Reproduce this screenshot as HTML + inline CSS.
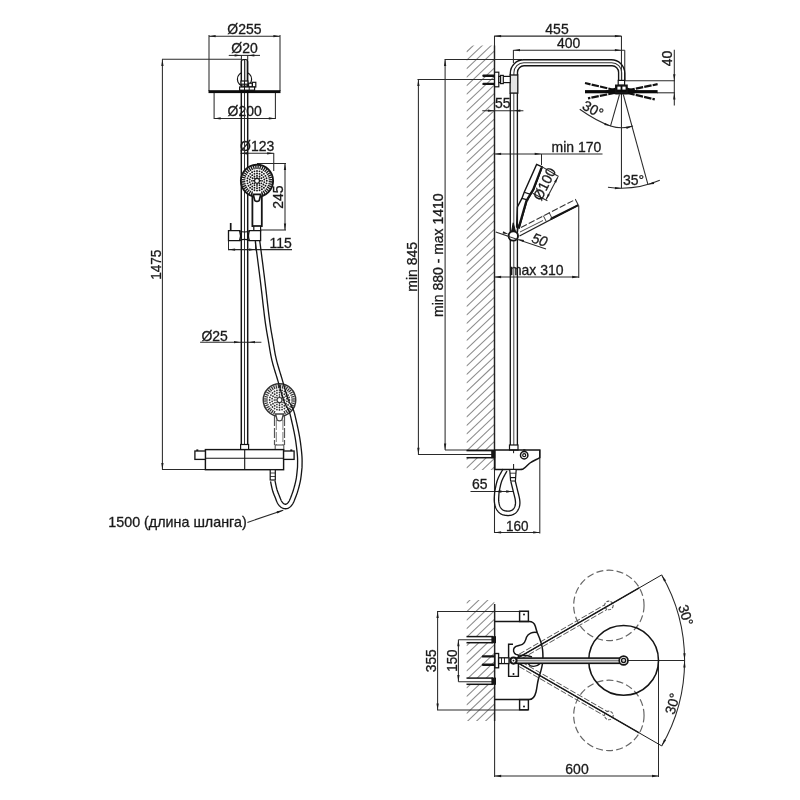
<!DOCTYPE html>
<html lang="ru"><head><meta charset="utf-8"><title>Схема душевой системы</title>
<style>
html,body{margin:0;padding:0;background:#fff;}
body{width:800px;height:800px;overflow:hidden;}
svg{display:block;will-change:transform;}
text{font-family:"Liberation Sans",sans-serif;fill:#1a1a1a;stroke:#1a1a1a;stroke-width:0.3px;}
</style></head><body>
<svg width="800" height="800" viewBox="0 0 800 800">
<rect x="0" y="0" width="800" height="800" fill="#ffffff"/>
<line x1="209.00" y1="36.20" x2="280.00" y2="36.20" stroke="#2a2a2a" stroke-width="1.05" />
<polygon points="209.00,36.20 215.60,35.05 215.60,37.35" fill="#1c1c1c"/>
<polygon points="280.00,36.20 273.40,37.35 273.40,35.05" fill="#1c1c1c"/>
<line x1="209.00" y1="35.00" x2="209.00" y2="91.00" stroke="#2a2a2a" stroke-width="1.05" />
<line x1="280.00" y1="35.00" x2="280.00" y2="91.00" stroke="#2a2a2a" stroke-width="1.05" />
<text x="0" y="0" text-anchor="middle" font-size="14.2" transform="translate(244.40 33.70) scale(0.985 1)" >Ø255</text>
<line x1="228.75" y1="55.40" x2="260.00" y2="55.40" stroke="#2a2a2a" stroke-width="1.05" />
<polygon points="241.20,55.40 234.60,56.55 234.60,54.25" fill="#1c1c1c"/>
<polygon points="247.80,55.40 254.40,54.25 254.40,56.55" fill="#1c1c1c"/>
<line x1="241.40" y1="55.00" x2="241.40" y2="60.00" stroke="#2a2a2a" stroke-width="1.05" />
<line x1="247.70" y1="55.00" x2="247.70" y2="60.00" stroke="#2a2a2a" stroke-width="1.05" />
<text x="0" y="0" text-anchor="middle" font-size="14.2" transform="translate(244.50 53.20) scale(0.985 1)" >Ø20</text>
<line x1="162.00" y1="59.30" x2="241.00" y2="59.30" stroke="#2a2a2a" stroke-width="1.05" />
<line x1="162.40" y1="59.30" x2="162.40" y2="469.50" stroke="#2a2a2a" stroke-width="1.05" />
<polygon points="162.40,59.30 163.55,65.90 161.25,65.90" fill="#1c1c1c"/>
<polygon points="162.40,469.50 161.25,462.90 163.55,462.90" fill="#1c1c1c"/>
<line x1="162.00" y1="469.50" x2="205.50" y2="469.50" stroke="#2a2a2a" stroke-width="1.05" />
<text x="0" y="0" text-anchor="middle" font-size="14.2" transform="translate(160.60 264.70) rotate(-90.00) scale(0.955 1)" >1475</text>
<line x1="214.10" y1="93.00" x2="214.10" y2="119.00" stroke="#2a2a2a" stroke-width="1.05" />
<line x1="275.40" y1="93.00" x2="275.40" y2="119.00" stroke="#2a2a2a" stroke-width="1.05" />
<line x1="214.10" y1="118.40" x2="275.40" y2="118.40" stroke="#2a2a2a" stroke-width="1.05" />
<polygon points="214.10,118.40 220.70,117.25 220.70,119.55" fill="#1c1c1c"/>
<polygon points="275.40,118.40 268.80,119.55 268.80,117.25" fill="#1c1c1c"/>
<text x="0" y="0" text-anchor="middle" font-size="14.2" transform="translate(244.70 116.20) scale(0.985 1)" >Ø200</text>
<line x1="240.50" y1="153.30" x2="273.75" y2="153.30" stroke="#2a2a2a" stroke-width="1.05" />
<line x1="273.75" y1="153.00" x2="273.75" y2="171.00" stroke="#2a2a2a" stroke-width="1.05" />
<polygon points="273.75,153.30 267.15,154.45 267.15,152.15" fill="#1c1c1c"/>
<polygon points="240.50,153.30 247.10,152.15 247.10,154.45" fill="#1c1c1c"/>
<text x="0" y="0" text-anchor="middle" font-size="14.2" transform="translate(257.20 150.60) scale(0.985 1)" >Ø123</text>
<line x1="257.00" y1="163.50" x2="286.00" y2="163.50" stroke="#2a2a2a" stroke-width="1.05" />
<line x1="285.00" y1="163.50" x2="285.00" y2="230.00" stroke="#2a2a2a" stroke-width="1.05" />
<line x1="261.00" y1="230.00" x2="286.00" y2="230.00" stroke="#2a2a2a" stroke-width="1.05" />
<polygon points="285.00,163.50 286.15,170.10 283.85,170.10" fill="#1c1c1c"/>
<polygon points="285.00,230.00 283.85,223.40 286.15,223.40" fill="#1c1c1c"/>
<text x="0" y="0" text-anchor="middle" font-size="14.2" transform="translate(283.10 197.20) rotate(-90.00) scale(0.985 1)" >245</text>
<line x1="228.50" y1="249.60" x2="292.00" y2="249.60" stroke="#2a2a2a" stroke-width="1.05" />
<line x1="228.50" y1="240.00" x2="228.50" y2="250.20" stroke="#2a2a2a" stroke-width="1.05" />
<line x1="255.60" y1="241.00" x2="255.60" y2="250.20" stroke="#2a2a2a" stroke-width="1.05" />
<polygon points="228.50,249.60 235.10,248.45 235.10,250.75" fill="#1c1c1c"/>
<polygon points="255.60,249.60 249.00,250.75 249.00,248.45" fill="#1c1c1c"/>
<text x="0" y="0" text-anchor="middle" font-size="14.2" transform="translate(280.60 248.10) scale(0.985 1)" >115</text>
<line x1="200.10" y1="342.15" x2="261.40" y2="342.15" stroke="#2a2a2a" stroke-width="1.05" />
<polygon points="240.60,342.15 234.00,343.30 234.00,341.00" fill="#1c1c1c"/>
<polygon points="248.40,342.15 255.00,341.00 255.00,343.30" fill="#1c1c1c"/>
<text x="0" y="0" text-anchor="middle" font-size="14.2" transform="translate(214.60 340.75) scale(0.985 1)" >Ø25</text>
<line x1="247.40" y1="522.40" x2="283.25" y2="510.20" stroke="#2a2a2a" stroke-width="1.05" />
<polygon points="283.25,510.20 277.37,513.41 276.63,511.24" fill="#1c1c1c"/>
<text x="0" y="0" text-anchor="middle" font-size="14.2" transform="translate(177.50 526.70) scale(1.008 1)" >1500 (длина шланга)</text>
<circle cx="279.50" cy="400.00" r="16.20" stroke="#333" stroke-width="1.56" fill="#fff" />
<g stroke="#333" stroke-linecap="butt" fill="#333"><line x1="291.26" y1="400.93" x2="294.85" y2="401.21" stroke-width="1.23"/><line x1="290.97" y1="402.75" x2="294.47" y2="403.60" stroke-width="1.23"/><line x1="290.40" y1="404.52" x2="293.73" y2="405.89" stroke-width="1.23"/><line x1="289.56" y1="406.17" x2="292.63" y2="408.05" stroke-width="1.23"/><line x1="288.47" y1="407.66" x2="291.21" y2="410.00" stroke-width="1.23"/><line x1="287.16" y1="408.97" x2="289.50" y2="411.71" stroke-width="1.23"/><line x1="285.67" y1="410.06" x2="287.55" y2="413.13" stroke-width="1.23"/><line x1="284.02" y1="410.90" x2="285.39" y2="414.23" stroke-width="1.23"/><line x1="274.98" y1="410.90" x2="273.61" y2="414.23" stroke-width="1.23"/><line x1="273.33" y1="410.06" x2="271.45" y2="413.13" stroke-width="1.23"/><line x1="271.84" y1="408.97" x2="269.50" y2="411.71" stroke-width="1.23"/><line x1="270.53" y1="407.66" x2="267.79" y2="410.00" stroke-width="1.23"/><line x1="269.44" y1="406.17" x2="266.37" y2="408.05" stroke-width="1.23"/><line x1="268.60" y1="404.52" x2="265.27" y2="405.89" stroke-width="1.23"/><line x1="268.03" y1="402.75" x2="264.53" y2="403.60" stroke-width="1.23"/><line x1="267.74" y1="400.93" x2="264.15" y2="401.21" stroke-width="1.23"/><line x1="267.74" y1="399.07" x2="264.15" y2="398.79" stroke-width="1.23"/><line x1="268.03" y1="397.25" x2="264.53" y2="396.40" stroke-width="1.23"/><line x1="268.60" y1="395.48" x2="265.27" y2="394.11" stroke-width="1.23"/><line x1="269.44" y1="393.83" x2="266.37" y2="391.95" stroke-width="1.23"/><line x1="270.53" y1="392.34" x2="267.79" y2="390.00" stroke-width="1.23"/><line x1="271.84" y1="391.03" x2="269.50" y2="388.29" stroke-width="1.23"/><line x1="273.33" y1="389.94" x2="271.45" y2="386.87" stroke-width="1.23"/><line x1="274.98" y1="389.10" x2="273.61" y2="385.77" stroke-width="1.23"/><line x1="276.75" y1="388.53" x2="275.90" y2="385.03" stroke-width="1.23"/><line x1="278.57" y1="388.24" x2="278.29" y2="384.65" stroke-width="1.23"/><line x1="280.43" y1="388.24" x2="280.71" y2="384.65" stroke-width="1.23"/><line x1="282.25" y1="388.53" x2="283.10" y2="385.03" stroke-width="1.23"/><line x1="284.02" y1="389.10" x2="285.39" y2="385.77" stroke-width="1.23"/><line x1="285.67" y1="389.94" x2="287.55" y2="386.87" stroke-width="1.23"/><line x1="287.16" y1="391.03" x2="289.50" y2="388.29" stroke-width="1.23"/><line x1="288.47" y1="392.34" x2="291.21" y2="390.00" stroke-width="1.23"/><line x1="289.56" y1="393.83" x2="292.63" y2="391.95" stroke-width="1.23"/><line x1="290.40" y1="395.48" x2="293.73" y2="394.11" stroke-width="1.23"/><line x1="290.97" y1="397.25" x2="294.47" y2="396.40" stroke-width="1.23"/><line x1="291.26" y1="399.07" x2="294.85" y2="398.79" stroke-width="1.23"/><circle cx="289.40" cy="400.00" r="0.90" stroke="none"/><circle cx="289.06" cy="402.56" r="0.90" stroke="none"/><circle cx="288.07" cy="404.95" r="0.90" stroke="none"/><circle cx="286.50" cy="407.00" r="0.90" stroke="none"/><circle cx="284.45" cy="408.57" r="0.90" stroke="none"/><circle cx="282.06" cy="409.56" r="0.90" stroke="none"/><circle cx="279.50" cy="409.90" r="0.90" stroke="none"/><circle cx="276.94" cy="409.56" r="0.90" stroke="none"/><circle cx="274.55" cy="408.57" r="0.90" stroke="none"/><circle cx="272.50" cy="407.00" r="0.90" stroke="none"/><circle cx="270.93" cy="404.95" r="0.90" stroke="none"/><circle cx="269.94" cy="402.56" r="0.90" stroke="none"/><circle cx="269.60" cy="400.00" r="0.90" stroke="none"/><circle cx="269.94" cy="397.44" r="0.90" stroke="none"/><circle cx="270.93" cy="395.05" r="0.90" stroke="none"/><circle cx="272.50" cy="393.00" r="0.90" stroke="none"/><circle cx="274.55" cy="391.43" r="0.90" stroke="none"/><circle cx="276.94" cy="390.44" r="0.90" stroke="none"/><circle cx="279.50" cy="390.10" r="0.90" stroke="none"/><circle cx="282.06" cy="390.44" r="0.90" stroke="none"/><circle cx="284.45" cy="391.43" r="0.90" stroke="none"/><circle cx="286.50" cy="393.00" r="0.90" stroke="none"/><circle cx="288.07" cy="395.05" r="0.90" stroke="none"/><circle cx="289.06" cy="397.44" r="0.90" stroke="none"/><circle cx="286.89" cy="401.30" r="0.90" stroke="none"/><circle cx="286.00" cy="403.75" r="0.90" stroke="none"/><circle cx="284.32" cy="405.75" r="0.90" stroke="none"/><circle cx="282.07" cy="407.05" r="0.90" stroke="none"/><circle cx="279.50" cy="407.50" r="0.90" stroke="none"/><circle cx="276.93" cy="407.05" r="0.90" stroke="none"/><circle cx="274.68" cy="405.75" r="0.90" stroke="none"/><circle cx="273.00" cy="403.75" r="0.90" stroke="none"/><circle cx="272.11" cy="401.30" r="0.90" stroke="none"/><circle cx="272.11" cy="398.70" r="0.90" stroke="none"/><circle cx="273.00" cy="396.25" r="0.90" stroke="none"/><circle cx="274.68" cy="394.25" r="0.90" stroke="none"/><circle cx="276.93" cy="392.95" r="0.90" stroke="none"/><circle cx="279.50" cy="392.50" r="0.90" stroke="none"/><circle cx="282.07" cy="392.95" r="0.90" stroke="none"/><circle cx="284.32" cy="394.25" r="0.90" stroke="none"/><circle cx="286.00" cy="396.25" r="0.90" stroke="none"/><circle cx="286.89" cy="398.70" r="0.90" stroke="none"/><circle cx="284.70" cy="400.00" r="0.85" stroke="none"/><circle cx="284.00" cy="402.60" r="0.85" stroke="none"/><circle cx="282.10" cy="404.50" r="0.85" stroke="none"/><circle cx="279.50" cy="405.20" r="0.85" stroke="none"/><circle cx="276.90" cy="404.50" r="0.85" stroke="none"/><circle cx="275.00" cy="402.60" r="0.85" stroke="none"/><circle cx="274.30" cy="400.00" r="0.85" stroke="none"/><circle cx="275.00" cy="397.40" r="0.85" stroke="none"/><circle cx="276.90" cy="395.50" r="0.85" stroke="none"/><circle cx="279.50" cy="394.80" r="0.85" stroke="none"/><circle cx="282.10" cy="395.50" r="0.85" stroke="none"/><circle cx="284.00" cy="397.40" r="0.85" stroke="none"/><line x1="282.60" y1="400.00" x2="283.70" y2="400.00" stroke-width="1.42"/><line x1="281.69" y1="402.19" x2="282.47" y2="402.97" stroke-width="1.42"/><line x1="279.50" y1="403.10" x2="279.50" y2="404.20" stroke-width="1.42"/><line x1="277.31" y1="402.19" x2="276.53" y2="402.97" stroke-width="1.42"/><line x1="276.40" y1="400.00" x2="275.30" y2="400.00" stroke-width="1.42"/><line x1="277.31" y1="397.81" x2="276.53" y2="397.03" stroke-width="1.42"/><line x1="279.50" y1="396.90" x2="279.50" y2="395.80" stroke-width="1.42"/><line x1="281.69" y1="397.81" x2="282.47" y2="397.03" stroke-width="1.42"/></g>
<circle cx="279.50" cy="400.00" r="2.50" stroke="#333" stroke-width="1.20" fill="#fff" />
<path d="M274.5,416 L274.5,445 M284.5,416 L284.5,445" stroke="#555" stroke-width="1.20" fill="none" stroke-dasharray="10 2"/>
<path d="M276.3,420 L276.3,445 M282.9,420 L282.9,445" stroke="#777" stroke-width="0.96" fill="none" stroke-dasharray="10 2"/>
<path d="M275.6,414 L283.4,414 L281.9,420 Q279.5,421.6 277.1,420 Z" stroke="#444" stroke-width="1.32" fill="#fff" />
<rect x="275.20" y="445.00" width="8.60" height="4.60" stroke="#555" stroke-width="1.08" fill="#fff" />
<path d="M255.27,241.29 L255.51,243.17 L255.82,245.52 L256.17,248.27 L256.57,251.36 L257.01,254.72 L257.47,258.29 L257.95,261.99 L258.43,265.77 L258.92,269.55 L259.39,273.27 L259.84,276.87 L260.27,280.27 L260.67,283.62 L261.08,287.08 L261.50,290.61 L261.91,294.18 L262.32,297.76 L262.73,301.32 L263.13,304.82 L263.53,308.23 L263.92,311.51 L264.29,314.64 L264.66,317.58 L265.02,320.30 L265.36,322.79 L265.69,325.08 L266.01,327.20 L266.32,329.17 L266.63,331.02 L266.92,332.76 L267.21,334.42 L267.50,336.03 L267.78,337.60 L268.07,339.17 L268.35,340.75 L268.63,342.38 L268.91,344.01 L269.17,345.57 L269.42,347.10 L269.66,348.58 L269.90,350.05 L270.14,351.50 L270.39,352.96 L270.66,354.42 L270.95,355.89 L271.25,357.40 L271.59,358.94 L271.96,360.53 L272.37,362.16 L272.80,363.80 L273.26,365.47 L273.75,367.15 L274.24,368.83 L274.75,370.53 L275.27,372.23 L275.79,373.92 L276.32,375.62 L276.84,377.30 L277.35,378.98 L277.84,380.64 L278.34,382.33 L278.84,384.07 L279.35,385.85 L279.86,387.65 L280.38,389.46 L280.89,391.25 L281.40,393.01 L281.91,394.72 L282.42,396.37 L282.92,397.94 L283.41,399.41 L283.89,400.78 L284.38,402.03 L284.87,403.17 L285.36,404.20 L285.84,405.14 L286.31,405.99 L286.76,406.76 L287.19,407.48 L287.59,408.16 L287.96,408.81 L288.30,409.46 L288.61,410.11 L288.91,410.83 L289.19,411.58 L289.45,412.31 L289.68,413.00 L289.89,413.68 L290.09,414.36 L290.28,415.07 L290.46,415.81 L290.65,416.59 L290.85,417.45 L291.07,418.37 L291.30,419.39 L291.56,420.51 L291.84,421.73 L292.14,423.05 L292.46,424.45 L292.79,425.93 L293.13,427.46 L293.47,429.03 L293.80,430.62 L294.13,432.22 L294.45,433.81 L294.75,435.38 L295.03,436.90 L295.28,438.37 L295.52,439.82 L295.74,441.30 L295.96,442.80 L296.16,444.30 L296.36,445.79 L296.54,447.27 L296.71,448.72 L296.86,450.13 L297.01,451.50 L297.14,452.80 L297.26,454.04 L297.36,455.19 L297.44,456.25 L297.50,457.25 L297.55,458.20 L297.58,459.10 L297.59,459.95 L297.60,460.76 L297.60,461.53 L297.59,462.27 L297.58,462.98 L297.57,463.67 L297.56,464.33 L297.55,464.98 L297.55,465.55 L297.54,466.03 L297.53,466.43 L297.52,466.78 L297.51,467.08 L297.50,467.35 L297.47,467.64 L297.45,467.94 L297.41,468.29 L297.37,468.70 L297.32,469.19 L297.26,469.77 L297.19,470.43 L297.12,471.15 L297.05,471.92 L296.96,472.73 L296.87,473.57 L296.78,474.43 L296.67,475.31 L296.56,476.19 L296.44,477.07 L296.32,477.93 L296.18,478.78 L296.04,479.59 L295.88,480.40 L295.71,481.23 L295.52,482.07 L295.32,482.92 L295.11,483.78 L294.90,484.63 L294.68,485.47 L294.45,486.30 L294.23,487.11 L294.01,487.90 L293.80,488.65 L293.59,489.37 L293.39,490.04 L293.19,490.68 L292.99,491.30 L292.79,491.90 L292.59,492.47 L292.40,493.03 L292.20,493.58 L292.00,494.11 L291.80,494.64 L291.60,495.16 L291.40,495.68 L291.20,496.19 L291.00,496.70 L290.81,497.20 L290.63,497.68 L290.44,498.14 L290.27,498.59 L290.09,499.02 L289.91,499.43 L289.74,499.82 L289.57,500.19 L289.40,500.54 L289.23,500.86 L289.06,501.16 L288.88,501.46 L288.70,501.74 L288.52,502.01 L288.33,502.26 L288.15,502.50 L287.97,502.72 L287.80,502.92 L287.62,503.11 L287.45,503.28 L287.28,503.43 L287.12,503.57 L286.97,503.69 L286.82,503.79 L286.67,503.88 L286.53,503.96 L286.39,504.03 L286.25,504.09 L286.12,504.14 L285.99,504.18 L285.86,504.21 L285.74,504.23 L285.61,504.24 L285.49,504.25 L285.38,504.25 L285.26,504.24 L285.14,504.23 L285.00,504.20 L284.86,504.17 L284.70,504.12 L284.54,504.06 L284.38,503.99 L284.21,503.91 L284.04,503.82 L283.88,503.72 L283.71,503.62 L283.55,503.50 L283.39,503.37 L283.23,503.23 L283.06,503.08 L282.90,502.92 L282.73,502.74 L282.57,502.55 L282.40,502.35 L282.23,502.12 L282.06,501.89 L281.89,501.63 L281.72,501.36 L281.55,501.08 L281.39,500.79 L281.23,500.48 L281.08,500.15 L280.92,499.79 L280.76,499.41 L280.59,499.01 L280.42,498.58 L280.25,498.14 L280.07,497.67 L279.89,497.19 L279.69,496.69 L279.49,496.17 L279.28,495.64 L279.06,495.10 L278.83,494.56 L278.61,494.01 L278.38,493.46 L278.15,492.90 L277.93,492.34 L277.71,491.76 L277.50,491.18 L277.29,490.59 L277.10,489.98 L276.91,489.38 L276.73,488.72 L276.54,487.97 L276.35,487.17 L276.16,486.33 L275.97,485.46 L275.79,484.60 L275.61,483.76 L275.45,482.96 L275.30,482.22 L275.16,481.55 L275.05,480.98 L274.95,480.53" stroke="#151515" stroke-width="1.32" fill="none" stroke-linejoin="round"/>
<path d="M259.73,240.71 L259.97,242.59 L260.28,244.94 L260.64,247.69 L261.04,250.78 L261.47,254.15 L261.93,257.71 L262.41,261.42 L262.90,265.20 L263.38,268.98 L263.86,272.71 L264.31,276.31 L264.73,279.73 L265.14,283.09 L265.55,286.55 L265.97,290.09 L266.38,293.67 L266.79,297.25 L267.20,300.81 L267.60,304.30 L268.00,307.70 L268.38,310.97 L268.76,314.09 L269.13,317.01 L269.48,319.70 L269.82,322.16 L270.15,324.43 L270.46,326.52 L270.77,328.46 L271.07,330.27 L271.36,331.99 L271.65,333.64 L271.93,335.23 L272.21,336.80 L272.50,338.38 L272.78,339.97 L273.07,341.62 L273.35,343.26 L273.61,344.84 L273.86,346.37 L274.10,347.86 L274.34,349.31 L274.58,350.75 L274.82,352.17 L275.08,353.58 L275.36,355.01 L275.66,356.46 L275.98,357.95 L276.34,359.47 L276.73,361.04 L277.15,362.63 L277.60,364.25 L278.07,365.89 L278.56,367.55 L279.06,369.22 L279.57,370.91 L280.09,372.60 L280.62,374.29 L281.14,375.99 L281.65,377.68 L282.16,379.36 L282.66,381.07 L283.17,382.83 L283.68,384.62 L284.19,386.42 L284.70,388.22 L285.21,390.00 L285.72,391.74 L286.22,393.42 L286.72,395.03 L287.20,396.55 L287.66,397.95 L288.11,399.22 L288.54,400.33 L288.97,401.32 L289.39,402.20 L289.81,403.01 L290.23,403.77 L290.64,404.49 L291.06,405.20 L291.49,405.91 L291.91,406.66 L292.32,407.44 L292.72,408.28 L293.09,409.17 L293.42,410.03 L293.70,410.84 L293.96,411.63 L294.20,412.39 L294.42,413.16 L294.63,413.93 L294.83,414.73 L295.03,415.55 L295.24,416.43 L295.45,417.37 L295.69,418.38 L295.94,419.49 L296.23,420.72 L296.53,422.05 L296.85,423.47 L297.18,424.96 L297.52,426.51 L297.87,428.09 L298.21,429.71 L298.54,431.33 L298.86,432.95 L299.17,434.55 L299.46,436.11 L299.72,437.63 L299.96,439.12 L300.19,440.64 L300.41,442.17 L300.62,443.70 L300.82,445.23 L301.01,446.73 L301.18,448.21 L301.34,449.65 L301.49,451.04 L301.62,452.37 L301.74,453.63 L301.84,454.81 L301.93,455.94 L302.00,457.01 L302.04,458.02 L302.08,458.98 L302.09,459.88 L302.10,460.74 L302.10,461.56 L302.09,462.32 L302.08,463.05 L302.07,463.74 L302.06,464.39 L302.05,465.02 L302.05,465.60 L302.04,466.10 L302.03,466.53 L302.02,466.93 L302.01,467.29 L301.99,467.65 L301.96,467.99 L301.93,468.35 L301.89,468.74 L301.85,469.17 L301.80,469.66 L301.74,470.23 L301.67,470.88 L301.60,471.60 L301.52,472.38 L301.44,473.20 L301.35,474.06 L301.25,474.94 L301.14,475.85 L301.03,476.77 L300.90,477.70 L300.77,478.62 L300.62,479.53 L300.46,480.41 L300.29,481.29 L300.10,482.18 L299.91,483.07 L299.70,483.97 L299.48,484.86 L299.25,485.75 L299.03,486.62 L298.80,487.48 L298.57,488.31 L298.34,489.12 L298.12,489.89 L297.91,490.63 L297.70,491.35 L297.48,492.04 L297.27,492.70 L297.05,493.34 L296.84,493.96 L296.63,494.56 L296.42,495.13 L296.21,495.69 L296.00,496.24 L295.80,496.77 L295.60,497.30 L295.40,497.81 L295.20,498.32 L295.01,498.82 L294.82,499.31 L294.63,499.80 L294.44,500.28 L294.24,500.75 L294.04,501.22 L293.84,501.68 L293.63,502.13 L293.41,502.58 L293.18,503.01 L292.94,503.44 L292.70,503.84 L292.46,504.22 L292.20,504.59 L291.95,504.95 L291.68,505.29 L291.41,505.62 L291.14,505.94 L290.85,506.24 L290.56,506.53 L290.26,506.81 L289.95,507.07 L289.63,507.31 L289.30,507.54 L288.97,507.75 L288.62,507.95 L288.26,508.12 L287.90,508.28 L287.53,508.41 L287.16,508.52 L286.78,508.61 L286.39,508.68 L286.00,508.73 L285.62,508.75 L285.22,508.75 L284.82,508.72 L284.43,508.67 L284.04,508.60 L283.65,508.50 L283.28,508.39 L282.91,508.25 L282.55,508.10 L282.19,507.93 L281.84,507.75 L281.50,507.55 L281.17,507.33 L280.85,507.10 L280.54,506.86 L280.24,506.60 L279.95,506.33 L279.67,506.05 L279.39,505.76 L279.12,505.45 L278.86,505.13 L278.61,504.79 L278.36,504.45 L278.12,504.09 L277.88,503.71 L277.65,503.32 L277.42,502.90 L277.20,502.47 L276.99,502.03 L276.79,501.59 L276.60,501.14 L276.41,500.68 L276.23,500.22 L276.05,499.75 L275.87,499.28 L275.69,498.80 L275.50,498.32 L275.31,497.83 L275.11,497.33 L274.90,496.82 L274.68,496.29 L274.45,495.73 L274.21,495.16 L273.97,494.57 L273.73,493.96 L273.49,493.33 L273.26,492.69 L273.03,492.02 L272.80,491.33 L272.59,490.62 L272.38,489.87 L272.17,489.05 L271.97,488.19 L271.76,487.30 L271.57,486.41 L271.38,485.52 L271.20,484.67 L271.04,483.86 L270.89,483.11 L270.76,482.45 L270.64,481.90 L270.55,481.47" stroke="#151515" stroke-width="1.32" fill="none" stroke-linejoin="round"/>
<circle cx="244.50" cy="79.20" r="7.10" stroke="#151515" stroke-width="1.20" fill="none" />
<rect x="241.30" y="61.00" width="6.40" height="20.00" stroke="none" stroke-width="0.00" fill="#fff" />
<rect x="244.90" y="61.00" width="2.50" height="20.00" stroke="none" stroke-width="0.00" fill="#bdbdbd" />
<path d="M241.3,444.5 L241.3,61.6 Q241.3,59.6 243.3,59.6 L245.7,59.6 Q247.7,59.6 247.7,61.6 L247.7,444.5" stroke="#151515" stroke-width="1.44" fill="none" />
<line x1="244.50" y1="60.00" x2="244.50" y2="444.50" stroke="#2a2a2a" stroke-width="0.95" />
<rect x="241.00" y="81.00" width="6.90" height="3.20" stroke="#151515" stroke-width="1.20" fill="#fff" />
<rect x="248.60" y="83.20" width="3.80" height="3.60" stroke="#151515" stroke-width="1.20" fill="#fff" />
<rect x="252.40" y="82.30" width="3.40" height="4.70" stroke="#151515" stroke-width="1.20" fill="#fff" />
<rect x="239.60" y="87.00" width="15.00" height="3.20" stroke="#151515" stroke-width="1.20" fill="#fff" />
<line x1="244.50" y1="81.00" x2="244.50" y2="90.00" stroke="#151515" stroke-width="1.0" />
<line x1="249.20" y1="87.00" x2="249.20" y2="90.00" stroke="#151515" stroke-width="1.0" />
<rect x="208.50" y="90.20" width="72.00" height="2.90" stroke="none" stroke-width="0.00" fill="#0c0c0c" />
<path d="M252.4,196 L252.4,226.2 L261.8,226.2 L261.8,196" stroke="#151515" stroke-width="1.80" fill="#fff" />
<rect x="253.80" y="226.20" width="6.80" height="4.60" stroke="#151515" stroke-width="1.20" fill="#fff" />
<circle cx="257.00" cy="180.80" r="16.10" stroke="#151515" stroke-width="1.92" fill="#fff" />
<g stroke="#151515" stroke-linecap="butt" fill="#151515"><line x1="268.66" y1="181.72" x2="272.25" y2="182.00" stroke-width="1.30"/><line x1="268.38" y1="183.53" x2="271.88" y2="184.37" stroke-width="1.30"/><line x1="267.81" y1="185.28" x2="271.14" y2="186.66" stroke-width="1.30"/><line x1="266.98" y1="186.91" x2="270.05" y2="188.79" stroke-width="1.30"/><line x1="265.90" y1="188.40" x2="268.63" y2="190.74" stroke-width="1.30"/><line x1="264.60" y1="189.70" x2="266.94" y2="192.43" stroke-width="1.30"/><line x1="263.11" y1="190.78" x2="264.99" y2="193.85" stroke-width="1.30"/><line x1="261.48" y1="191.61" x2="262.86" y2="194.94" stroke-width="1.30"/><line x1="252.52" y1="191.61" x2="251.14" y2="194.94" stroke-width="1.30"/><line x1="250.89" y1="190.78" x2="249.01" y2="193.85" stroke-width="1.30"/><line x1="249.40" y1="189.70" x2="247.06" y2="192.43" stroke-width="1.30"/><line x1="248.10" y1="188.40" x2="245.37" y2="190.74" stroke-width="1.30"/><line x1="247.02" y1="186.91" x2="243.95" y2="188.79" stroke-width="1.30"/><line x1="246.19" y1="185.28" x2="242.86" y2="186.66" stroke-width="1.30"/><line x1="245.62" y1="183.53" x2="242.12" y2="184.37" stroke-width="1.30"/><line x1="245.34" y1="181.72" x2="241.75" y2="182.00" stroke-width="1.30"/><line x1="245.34" y1="179.88" x2="241.75" y2="179.60" stroke-width="1.30"/><line x1="245.62" y1="178.07" x2="242.12" y2="177.23" stroke-width="1.30"/><line x1="246.19" y1="176.32" x2="242.86" y2="174.94" stroke-width="1.30"/><line x1="247.02" y1="174.69" x2="243.95" y2="172.81" stroke-width="1.30"/><line x1="248.10" y1="173.20" x2="245.37" y2="170.86" stroke-width="1.30"/><line x1="249.40" y1="171.90" x2="247.06" y2="169.17" stroke-width="1.30"/><line x1="250.89" y1="170.82" x2="249.01" y2="167.75" stroke-width="1.30"/><line x1="252.52" y1="169.99" x2="251.14" y2="166.66" stroke-width="1.30"/><line x1="254.27" y1="169.42" x2="253.43" y2="165.92" stroke-width="1.30"/><line x1="256.08" y1="169.14" x2="255.80" y2="165.55" stroke-width="1.30"/><line x1="257.92" y1="169.14" x2="258.20" y2="165.55" stroke-width="1.30"/><line x1="259.73" y1="169.42" x2="260.57" y2="165.92" stroke-width="1.30"/><line x1="261.48" y1="169.99" x2="262.86" y2="166.66" stroke-width="1.30"/><line x1="263.11" y1="170.82" x2="264.99" y2="167.75" stroke-width="1.30"/><line x1="264.60" y1="171.90" x2="266.94" y2="169.17" stroke-width="1.30"/><line x1="265.90" y1="173.20" x2="268.63" y2="170.86" stroke-width="1.30"/><line x1="266.98" y1="174.69" x2="270.05" y2="172.81" stroke-width="1.30"/><line x1="267.81" y1="176.32" x2="271.14" y2="174.94" stroke-width="1.30"/><line x1="268.38" y1="178.07" x2="271.88" y2="177.23" stroke-width="1.30"/><line x1="268.66" y1="179.88" x2="272.25" y2="179.60" stroke-width="1.30"/><circle cx="266.80" cy="180.80" r="0.95" stroke="none"/><circle cx="266.47" cy="183.34" r="0.95" stroke="none"/><circle cx="265.49" cy="185.70" r="0.95" stroke="none"/><circle cx="263.93" cy="187.73" r="0.95" stroke="none"/><circle cx="261.90" cy="189.29" r="0.95" stroke="none"/><circle cx="259.54" cy="190.27" r="0.95" stroke="none"/><circle cx="257.00" cy="190.60" r="0.95" stroke="none"/><circle cx="254.46" cy="190.27" r="0.95" stroke="none"/><circle cx="252.10" cy="189.29" r="0.95" stroke="none"/><circle cx="250.07" cy="187.73" r="0.95" stroke="none"/><circle cx="248.51" cy="185.70" r="0.95" stroke="none"/><circle cx="247.53" cy="183.34" r="0.95" stroke="none"/><circle cx="247.20" cy="180.80" r="0.95" stroke="none"/><circle cx="247.53" cy="178.26" r="0.95" stroke="none"/><circle cx="248.51" cy="175.90" r="0.95" stroke="none"/><circle cx="250.07" cy="173.87" r="0.95" stroke="none"/><circle cx="252.10" cy="172.31" r="0.95" stroke="none"/><circle cx="254.46" cy="171.33" r="0.95" stroke="none"/><circle cx="257.00" cy="171.00" r="0.95" stroke="none"/><circle cx="259.54" cy="171.33" r="0.95" stroke="none"/><circle cx="261.90" cy="172.31" r="0.95" stroke="none"/><circle cx="263.93" cy="173.87" r="0.95" stroke="none"/><circle cx="265.49" cy="175.90" r="0.95" stroke="none"/><circle cx="266.47" cy="178.26" r="0.95" stroke="none"/><circle cx="264.29" cy="182.08" r="0.95" stroke="none"/><circle cx="263.41" cy="184.50" r="0.95" stroke="none"/><circle cx="261.76" cy="186.47" r="0.95" stroke="none"/><circle cx="259.53" cy="187.75" r="0.95" stroke="none"/><circle cx="257.00" cy="188.20" r="0.95" stroke="none"/><circle cx="254.47" cy="187.75" r="0.95" stroke="none"/><circle cx="252.24" cy="186.47" r="0.95" stroke="none"/><circle cx="250.59" cy="184.50" r="0.95" stroke="none"/><circle cx="249.71" cy="182.08" r="0.95" stroke="none"/><circle cx="249.71" cy="179.52" r="0.95" stroke="none"/><circle cx="250.59" cy="177.10" r="0.95" stroke="none"/><circle cx="252.24" cy="175.13" r="0.95" stroke="none"/><circle cx="254.47" cy="173.85" r="0.95" stroke="none"/><circle cx="257.00" cy="173.40" r="0.95" stroke="none"/><circle cx="259.53" cy="173.85" r="0.95" stroke="none"/><circle cx="261.76" cy="175.13" r="0.95" stroke="none"/><circle cx="263.41" cy="177.10" r="0.95" stroke="none"/><circle cx="264.29" cy="179.52" r="0.95" stroke="none"/><circle cx="262.10" cy="180.80" r="0.90" stroke="none"/><circle cx="261.42" cy="183.35" r="0.90" stroke="none"/><circle cx="259.55" cy="185.22" r="0.90" stroke="none"/><circle cx="257.00" cy="185.90" r="0.90" stroke="none"/><circle cx="254.45" cy="185.22" r="0.90" stroke="none"/><circle cx="252.58" cy="183.35" r="0.90" stroke="none"/><circle cx="251.90" cy="180.80" r="0.90" stroke="none"/><circle cx="252.58" cy="178.25" r="0.90" stroke="none"/><circle cx="254.45" cy="176.38" r="0.90" stroke="none"/><circle cx="257.00" cy="175.70" r="0.90" stroke="none"/><circle cx="259.55" cy="176.38" r="0.90" stroke="none"/><circle cx="261.42" cy="178.25" r="0.90" stroke="none"/><line x1="260.10" y1="180.80" x2="261.20" y2="180.80" stroke-width="1.50"/><line x1="259.19" y1="182.99" x2="259.97" y2="183.77" stroke-width="1.50"/><line x1="257.00" y1="183.90" x2="257.00" y2="185.00" stroke-width="1.50"/><line x1="254.81" y1="182.99" x2="254.03" y2="183.77" stroke-width="1.50"/><line x1="253.90" y1="180.80" x2="252.80" y2="180.80" stroke-width="1.50"/><line x1="254.81" y1="178.61" x2="254.03" y2="177.83" stroke-width="1.50"/><line x1="257.00" y1="177.70" x2="257.00" y2="176.60" stroke-width="1.50"/><line x1="259.19" y1="178.61" x2="259.97" y2="177.83" stroke-width="1.50"/></g>
<circle cx="257.00" cy="180.80" r="2.50" stroke="#151515" stroke-width="1.20" fill="#fff" />
<path d="M253.2,194.3 L260.8,194.3 L259.2,200.6 Q257,202.2 254.8,200.6 Z" stroke="#151515" stroke-width="1.68" fill="#fff" />
<path d="M228.5,230.7 L239.6,230.7 Q241.5,235.6 239.6,240.6 L228.5,240.6 Z" stroke="#151515" stroke-width="1.32" fill="#fff" />
<path d="M249.4,230.7 L260.6,230.7 L260.6,240.6 L249.4,240.6 Q247.5,235.6 249.4,230.7 Z" stroke="#151515" stroke-width="1.32" fill="#fff" />
<path d="M239.6,230.7 Q244.5,233.3 249.4,230.7 M239.6,240.6 Q244.5,238 249.4,240.6" stroke="#151515" stroke-width="1.20" fill="none" />
<line x1="230.70" y1="223.00" x2="230.70" y2="230.70" stroke="#151515" stroke-width="1.7" />
<rect x="240.60" y="444.50" width="8.00" height="5.10" stroke="#151515" stroke-width="1.20" fill="#fff" />
<rect x="205.40" y="449.60" width="78.20" height="20.10" stroke="#151515" stroke-width="1.44" fill="#fff" />
<line x1="205.40" y1="458.20" x2="283.60" y2="458.20" stroke="#151515" stroke-width="1.1" />
<line x1="244.70" y1="449.60" x2="244.70" y2="469.70" stroke="#151515" stroke-width="1.1" />
<rect x="194.90" y="451.00" width="10.50" height="8.40" stroke="#151515" stroke-width="1.32" fill="#fff" />
<rect x="283.60" y="451.00" width="10.50" height="8.40" stroke="#151515" stroke-width="1.32" fill="#fff" />
<rect x="196.30" y="449.40" width="2.00" height="1.60" stroke="none" stroke-width="0.00" fill="#151515" />
<rect x="290.30" y="449.40" width="2.00" height="1.60" stroke="none" stroke-width="0.00" fill="#151515" />
<rect x="270.20" y="469.70" width="5.10" height="10.30" stroke="#151515" stroke-width="1.20" fill="#fff" />
<line x1="270.20" y1="473.00" x2="275.30" y2="473.00" stroke="#151515" stroke-width="0.8" />
<line x1="270.20" y1="476.50" x2="275.30" y2="476.50" stroke="#151515" stroke-width="0.8" />
<clipPath id="h1"><rect x="466.5" y="45.5" width="28.0" height="424.5"/></clipPath>
<g clip-path="url(#h1)" stroke="#8c8c8c" stroke-width="1.05">
<line x1="466.5" y1="35.02" x2="494.5" y2="8.42"/>
<line x1="466.5" y1="43.51" x2="494.5" y2="16.91"/>
<line x1="466.5" y1="52.00" x2="494.5" y2="25.40"/>
<line x1="466.5" y1="60.49" x2="494.5" y2="33.89"/>
<line x1="466.5" y1="68.98" x2="494.5" y2="42.38"/>
<line x1="466.5" y1="77.47" x2="494.5" y2="50.87"/>
<line x1="466.5" y1="85.96" x2="494.5" y2="59.36"/>
<line x1="466.5" y1="94.45" x2="494.5" y2="67.85"/>
<line x1="466.5" y1="102.94" x2="494.5" y2="76.34"/>
<line x1="466.5" y1="111.43" x2="494.5" y2="84.83"/>
<line x1="466.5" y1="119.92" x2="494.5" y2="93.32"/>
<line x1="466.5" y1="128.41" x2="494.5" y2="101.81"/>
<line x1="466.5" y1="136.90" x2="494.5" y2="110.30"/>
<line x1="466.5" y1="145.39" x2="494.5" y2="118.79"/>
<line x1="466.5" y1="153.88" x2="494.5" y2="127.28"/>
<line x1="466.5" y1="162.37" x2="494.5" y2="135.77"/>
<line x1="466.5" y1="170.86" x2="494.5" y2="144.26"/>
<line x1="466.5" y1="179.35" x2="494.5" y2="152.75"/>
<line x1="466.5" y1="187.84" x2="494.5" y2="161.24"/>
<line x1="466.5" y1="196.33" x2="494.5" y2="169.73"/>
<line x1="466.5" y1="204.82" x2="494.5" y2="178.22"/>
<line x1="466.5" y1="213.31" x2="494.5" y2="186.71"/>
<line x1="466.5" y1="221.80" x2="494.5" y2="195.20"/>
<line x1="466.5" y1="230.29" x2="494.5" y2="203.69"/>
<line x1="466.5" y1="238.78" x2="494.5" y2="212.18"/>
<line x1="466.5" y1="247.27" x2="494.5" y2="220.67"/>
<line x1="466.5" y1="255.76" x2="494.5" y2="229.16"/>
<line x1="466.5" y1="264.25" x2="494.5" y2="237.65"/>
<line x1="466.5" y1="272.74" x2="494.5" y2="246.14"/>
<line x1="466.5" y1="281.23" x2="494.5" y2="254.63"/>
<line x1="466.5" y1="289.72" x2="494.5" y2="263.12"/>
<line x1="466.5" y1="298.21" x2="494.5" y2="271.61"/>
<line x1="466.5" y1="306.70" x2="494.5" y2="280.10"/>
<line x1="466.5" y1="315.19" x2="494.5" y2="288.59"/>
<line x1="466.5" y1="323.68" x2="494.5" y2="297.08"/>
<line x1="466.5" y1="332.17" x2="494.5" y2="305.57"/>
<line x1="466.5" y1="340.66" x2="494.5" y2="314.06"/>
<line x1="466.5" y1="349.15" x2="494.5" y2="322.55"/>
<line x1="466.5" y1="357.64" x2="494.5" y2="331.04"/>
<line x1="466.5" y1="366.13" x2="494.5" y2="339.53"/>
<line x1="466.5" y1="374.62" x2="494.5" y2="348.02"/>
<line x1="466.5" y1="383.11" x2="494.5" y2="356.51"/>
<line x1="466.5" y1="391.60" x2="494.5" y2="365.00"/>
<line x1="466.5" y1="400.09" x2="494.5" y2="373.49"/>
<line x1="466.5" y1="408.58" x2="494.5" y2="381.98"/>
<line x1="466.5" y1="417.07" x2="494.5" y2="390.47"/>
<line x1="466.5" y1="425.56" x2="494.5" y2="398.96"/>
<line x1="466.5" y1="434.05" x2="494.5" y2="407.45"/>
<line x1="466.5" y1="442.54" x2="494.5" y2="415.94"/>
<line x1="466.5" y1="451.03" x2="494.5" y2="424.43"/>
<line x1="466.5" y1="459.52" x2="494.5" y2="432.92"/>
<line x1="466.5" y1="468.01" x2="494.5" y2="441.41"/>
<line x1="466.5" y1="476.50" x2="494.5" y2="449.90"/>
<line x1="466.5" y1="484.99" x2="494.5" y2="458.39"/>
<line x1="466.5" y1="493.48" x2="494.5" y2="466.88"/>
<line x1="466.5" y1="501.97" x2="494.5" y2="475.37"/>
</g>
<rect x="466" y="450.5" width="28.5" height="7.300000000000011" fill="#fff"/>
<line x1="494.50" y1="35.70" x2="494.50" y2="533.00" stroke="#2a2a2a" stroke-width="1.05" />
<line x1="494.50" y1="45.50" x2="494.50" y2="470.00" stroke="#222" stroke-width="1.4" />
<line x1="494.50" y1="36.10" x2="621.50" y2="36.10" stroke="#2a2a2a" stroke-width="1.05" />
<polygon points="494.50,36.10 501.10,34.95 501.10,37.25" fill="#1c1c1c"/>
<polygon points="621.50,36.10 614.90,37.25 614.90,34.95" fill="#1c1c1c"/>
<text x="0" y="0" text-anchor="middle" font-size="14.2" transform="translate(557.00 33.65) scale(0.985 1)" >455</text>
<line x1="513.40" y1="50.20" x2="624.75" y2="50.20" stroke="#2a2a2a" stroke-width="1.05" />
<polygon points="513.40,50.20 520.00,49.05 520.00,51.35" fill="#1c1c1c"/>
<polygon points="621.50,50.20 614.90,51.35 614.90,49.05" fill="#1c1c1c"/>
<line x1="513.40" y1="50.00" x2="513.40" y2="63.00" stroke="#2a2a2a" stroke-width="1.05" />
<text x="0" y="0" text-anchor="middle" font-size="14.2" transform="translate(568.70 48.35) scale(0.985 1)" >400</text>
<line x1="621.45" y1="36.00" x2="621.45" y2="188.30" stroke="#2a2a2a" stroke-width="1.05" />
<line x1="624.75" y1="50.20" x2="624.75" y2="80.50" stroke="#2a2a2a" stroke-width="1.05" />
<line x1="444.60" y1="59.40" x2="522.00" y2="59.40" stroke="#2a2a2a" stroke-width="1.05" />
<line x1="445.10" y1="59.40" x2="445.10" y2="450.00" stroke="#2a2a2a" stroke-width="1.05" />
<polygon points="445.10,59.40 446.25,66.00 443.95,66.00" fill="#1c1c1c"/>
<polygon points="445.10,450.00 443.95,443.40 446.25,443.40" fill="#1c1c1c"/>
<line x1="445.00" y1="450.00" x2="494.00" y2="450.00" stroke="#2a2a2a" stroke-width="1.05" />
<text x="0" y="0" text-anchor="middle" font-size="14.2" transform="translate(443.40 255.20) rotate(-90.00) scale(0.985 1)" >min 880 - max 1410</text>
<line x1="417.50" y1="79.50" x2="494.50" y2="79.50" stroke="#2a2a2a" stroke-width="1.05" />
<line x1="418.40" y1="79.50" x2="418.40" y2="454.40" stroke="#2a2a2a" stroke-width="1.05" />
<polygon points="418.40,79.50 419.55,86.10 417.25,86.10" fill="#1c1c1c"/>
<polygon points="418.40,454.40 417.25,447.80 419.55,447.80" fill="#1c1c1c"/>
<line x1="418.00" y1="454.40" x2="494.00" y2="454.40" stroke="#2a2a2a" stroke-width="1.05" />
<text x="0" y="0" text-anchor="middle" font-size="14.2" transform="translate(417.30 266.90) rotate(-90.00) scale(0.985 1)" >min 845</text>
<line x1="482.25" y1="110.65" x2="523.40" y2="110.65" stroke="#2a2a2a" stroke-width="1.05" />
<polygon points="494.50,110.65 487.90,111.80 487.90,109.50" fill="#1c1c1c"/>
<polygon points="513.75,110.65 520.35,109.50 520.35,111.80" fill="#1c1c1c"/>
<text x="0" y="0" text-anchor="middle" font-size="14.2" transform="translate(502.80 108.40) scale(0.985 1)" >55</text>
<line x1="494.50" y1="153.95" x2="602.50" y2="153.95" stroke="#2a2a2a" stroke-width="1.05" />
<polygon points="494.50,153.95 501.10,152.80 501.10,155.10" fill="#1c1c1c"/>
<polygon points="541.30,153.95 534.70,155.10 534.70,152.80" fill="#1c1c1c"/>
<line x1="541.50" y1="154.00" x2="541.50" y2="165.00" stroke="#2a2a2a" stroke-width="1.05" />
<text x="0" y="0" text-anchor="middle" font-size="14.2" transform="translate(576.40 151.80) scale(0.985 1)" >min 170</text>
<line x1="494.50" y1="277.00" x2="578.75" y2="277.00" stroke="#2a2a2a" stroke-width="1.05" />
<polygon points="494.50,277.00 501.10,275.85 501.10,278.15" fill="#1c1c1c"/>
<polygon points="578.75,277.00 572.15,278.15 572.15,275.85" fill="#1c1c1c"/>
<line x1="578.75" y1="205.50" x2="578.75" y2="278.00" stroke="#2a2a2a" stroke-width="1.05" />
<text x="0" y="0" text-anchor="middle" font-size="14.2" transform="translate(536.70 275.00) scale(0.985 1)" >max 310</text>
<line x1="470.50" y1="491.50" x2="513.00" y2="491.50" stroke="#2a2a2a" stroke-width="1.05" />
<polygon points="512.80,491.50 506.20,492.65 506.20,490.35" fill="#1c1c1c"/>
<polygon points="494.80,491.50 501.40,490.35 501.40,492.65" fill="#1c1c1c"/>
<text x="0" y="0" text-anchor="middle" font-size="14.2" transform="translate(479.80 489.10) scale(0.985 1)" >65</text>
<line x1="494.50" y1="532.40" x2="539.80" y2="532.40" stroke="#2a2a2a" stroke-width="1.05" />
<polygon points="494.50,532.40 501.10,531.25 501.10,533.55" fill="#1c1c1c"/>
<polygon points="539.80,532.40 533.20,533.55 533.20,531.25" fill="#1c1c1c"/>
<line x1="539.80" y1="450.00" x2="539.80" y2="533.40" stroke="#2a2a2a" stroke-width="1.05" />
<text x="0" y="0" text-anchor="middle" font-size="14.2" transform="translate(517.20 531.00) scale(0.95 1)" >160</text>
<line x1="674.30" y1="49.75" x2="674.30" y2="105.50" stroke="#2a2a2a" stroke-width="1.05" />
<line x1="625.00" y1="80.80" x2="675.00" y2="80.80" stroke="#2a2a2a" stroke-width="1.05" />
<line x1="657.00" y1="92.80" x2="675.00" y2="92.80" stroke="#2a2a2a" stroke-width="1.05" />
<polygon points="674.30,80.80 673.15,74.20 675.45,74.20" fill="#1c1c1c"/>
<polygon points="674.30,92.80 675.45,99.40 673.15,99.40" fill="#1c1c1c"/>
<text x="0" y="0" text-anchor="middle" font-size="14.2" transform="translate(672.00 58.50) rotate(-90.00) scale(0.985 1)" >40</text>
<line x1="619.50" y1="94.50" x2="610.50" y2="126.20" stroke="#2a2a2a" stroke-width="1.05" />
<line x1="623.30" y1="94.50" x2="647.90" y2="184.40" stroke="#2a2a2a" stroke-width="1.05" />
<path d="M579.75,109.3 Q597,121.5 610.5,125.9 A36.6,36.6 0 0 0 633,125.9" stroke="#2a2a2a" stroke-width="1.08" fill="none" />
<polygon points="610.80,126.00 604.26,125.09 604.97,122.90" fill="#1c1c1c"/>
<polygon points="632.60,126.00 626.67,128.90 626.03,126.69" fill="#1c1c1c"/>
<text x="0" y="0" text-anchor="middle" font-size="14.2" transform="translate(590.60 113.60) rotate(29.00) scale(0.985 1)" >30°</text>
<path d="M607.97,187.25 A97.2,97.2 0 0 0 659.79,180.34" stroke="#2a2a2a" stroke-width="1.08" fill="none" />
<polygon points="621.40,188.20 614.88,189.24 614.92,186.94" fill="#1c1c1c"/>
<polygon points="647.64,184.62 653.59,181.76 654.21,183.98" fill="#1c1c1c"/>
<text x="0" y="0" text-anchor="middle" font-size="14.2" transform="translate(633.60 185.40) scale(0.985 1)" >35°</text>
<path d="M510.3,75 L510.3,73.3 A13.5,13.5 0 0 1 523.8,59.8 L611.3,59.8 A13.5,13.5 0 0 1 624.8,73.3 L624.8,80.6" stroke="#151515" stroke-width="1.38" fill="none" />
<path d="M517.5,75 L517.5,72.3 A6.5,6.5 0 0 1 524,65.8 L612.1,65.8 A6.5,6.5 0 0 1 618.6,72.3 L618.6,80.6" stroke="#151515" stroke-width="1.38" fill="none" />
<path d="M513.9,75 L513.9,72.8 A10,10 0 0 1 523.9,62.8 L611.7,62.8 A10,10 0 0 1 621.7,72.8 L621.7,80.6" stroke="#333" stroke-width="1.02" fill="none" />
<path d="M510.3,93 L510.3,445 M517.4,93 L517.4,445" stroke="#151515" stroke-width="1.32" fill="none" />
<line x1="513.80" y1="93.00" x2="513.80" y2="445.00" stroke="#333" stroke-width="0.9" />
<rect x="510.10" y="75.00" width="7.70" height="18.10" stroke="#151515" stroke-width="1.32" fill="#e4e4e4" />
<line x1="483.50" y1="75.70" x2="495.00" y2="75.70" stroke="#151515" stroke-width="2.4" stroke-linecap="round"/>
<line x1="483.50" y1="83.90" x2="495.00" y2="83.90" stroke="#151515" stroke-width="2.4" stroke-linecap="round"/>
<rect x="494.60" y="72.20" width="4.20" height="14.60" stroke="#151515" stroke-width="1.20" fill="#fff" />
<rect x="498.80" y="76.40" width="11.50" height="6.20" stroke="#151515" stroke-width="1.20" fill="#fff" />
<rect x="500.60" y="75.40" width="2.70" height="8.20" stroke="#151515" stroke-width="1.20" fill="#fff" />
<rect x="618.20" y="80.40" width="6.40" height="4.90" stroke="#151515" stroke-width="1.20" fill="#fff" />
<line x1="615.66" y1="90.22" x2="585.00" y2="83.00" stroke="#111" stroke-width="2.2" stroke-dasharray="7.5 1.1"/>
<line x1="615.62" y1="92.78" x2="588.00" y2="98.30" stroke="#111" stroke-width="2.2" stroke-dasharray="7.5 1.1"/>
<line x1="627.38" y1="90.40" x2="657.60" y2="84.20" stroke="#111" stroke-width="2.2" stroke-dasharray="7.5 1.1"/>
<line x1="627.34" y1="92.97" x2="654.80" y2="99.40" stroke="#111" stroke-width="2.2" stroke-dasharray="7.5 1.1"/>
<rect x="585.00" y="90.10" width="72.60" height="3.20" stroke="none" stroke-width="0.00" fill="#0a0a0a" />
<path d="M603,91.6 L616,87.6 L627,87.6 L640,91.6 L627,94.6 L616,94.6 Z" stroke="none" stroke-width="0.00" fill="#0a0a0a" />
<rect x="615.80" y="85.30" width="11.20" height="7.30" stroke="#151515" stroke-width="1.56" fill="#0a0a0a" />
<rect x="617.40" y="86.60" width="3.20" height="3.00" stroke="none" stroke-width="0.00" fill="#fff" />
<rect x="622.40" y="86.60" width="3.20" height="3.00" stroke="none" stroke-width="0.00" fill="#fff" />
<path d="M536.6,164.4 L542.2,166.9 L533.75,189.4 L527,200.6 L519.2,228 L516.6,227 L517.4,207 L521.9,198.4 L524.2,192.2 Z" stroke="#151515" stroke-width="1.44" fill="none" />
<path d="M541.6,167.6 L533.2,189.6 L526.4,201 L518.6,228" stroke="#151515" stroke-width="2.28" fill="none" />
<path d="M524.2,192.2 L530.6,194.4 M521.9,198.4 L528.4,200.2" stroke="#151515" stroke-width="1.20" fill="none" />
<path d="M521,227.4 L575.4,199.5 L578.3,205.1" stroke="#333" stroke-width="1.08" fill="none" stroke-dasharray="6.5 2.2"/>
<path d="M519.5,236 L578.3,205.1" stroke="#222" stroke-width="1.20" fill="none" />
<path d="M550.6,219 L578.3,205.1" stroke="#151515" stroke-width="2.04" fill="none" />
<path d="M520,232 L543,220.5" stroke="#444" stroke-width="0.96" fill="none" />
<path d="M543.3,215.6 L546.3,221.6 M549.2,212.6 L552.2,218.6" stroke="#333" stroke-width="0.96" fill="none" />
<line x1="542.20" y1="166.90" x2="558.60" y2="176.50" stroke="#2a2a2a" stroke-width="1.05" />
<line x1="532.60" y1="193.30" x2="547.40" y2="200.70" stroke="#2a2a2a" stroke-width="1.05" />
<line x1="546.10" y1="199.50" x2="557.90" y2="177.00" stroke="#2a2a2a" stroke-width="1.05" />
<polygon points="557.90,177.00 556.13,182.85 554.09,181.78" fill="#1c1c1c"/>
<polygon points="546.10,199.50 547.87,193.65 549.91,194.72" fill="#1c1c1c"/>
<text x="0" y="0" text-anchor="middle" font-size="14.2" transform="translate(548.90 186.10) rotate(-63.50) scale(0.985 1)" >Ø100</text>
<circle cx="513.30" cy="235.90" r="4.70" stroke="#151515" stroke-width="1.92" fill="#fff" />
<path d="M511.6,231.2 L513.2,222.8 L515.4,231.2 Z" stroke="#151515" stroke-width="0.96" fill="#151515" />
<path d="M518.2,224.5 L517.4,231.8" stroke="#151515" stroke-width="1.44" fill="none" />
<line x1="495.75" y1="232.10" x2="546.00" y2="249.00" stroke="#2a2a2a" stroke-width="1.05" />
<polygon points="508.60,234.20 502.55,233.38 503.28,231.20" fill="#1c1c1c"/>
<polygon points="518.00,239.10 524.05,239.92 523.32,242.10" fill="#1c1c1c"/>
<text x="0" y="0" text-anchor="middle" font-size="14.2" transform="translate(538.10 244.40) rotate(18.59) scale(0.985 1)" font-style="italic">50</text>
<line x1="466.50" y1="450.60" x2="494.00" y2="450.60" stroke="#151515" stroke-width="1.5" />
<line x1="466.50" y1="457.70" x2="494.00" y2="457.70" stroke="#151515" stroke-width="1.5" />
<rect x="491.20" y="450.00" width="4.00" height="8.20" stroke="none" stroke-width="0.00" fill="#151515" />
<rect x="509.50" y="445.00" width="8.50" height="5.00" stroke="#151515" stroke-width="1.20" fill="none" />
<path d="M494.8,450 L539.8,450 L539.8,457.6 C537,459.4 533.5,460.6 530,463 C527.5,464.8 526,467.5 523,469 Q521.8,469.5 520,469.5 L494.8,469.5 Z" stroke="#151515" stroke-width="1.50" fill="none" />
<circle cx="524.20" cy="455.20" r="3.70" stroke="#151515" stroke-width="1.50" fill="none" />
<circle cx="524.20" cy="455.20" r="1.50" stroke="#151515" stroke-width="1.20" fill="none" />
<rect x="523.20" y="449.30" width="2.20" height="1.30" stroke="none" stroke-width="0.00" fill="#151515" />
<line x1="513.60" y1="450.00" x2="513.60" y2="453.20" stroke="#151515" stroke-width="1.0" />
<line x1="513.60" y1="464.00" x2="513.60" y2="469.50" stroke="#151515" stroke-width="1.0" />
<path d="M510.86,481.52 L510.97,481.96 L511.10,482.50 L511.26,483.12 L511.43,483.82 L511.62,484.59 L511.82,485.40 L512.03,486.25 L512.24,487.11 L512.45,487.99 L512.66,488.85 L512.87,489.70 L513.06,490.51 L513.26,491.34 L513.47,492.19 L513.69,493.07 L513.92,493.95 L514.14,494.84 L514.36,495.71 L514.57,496.58 L514.77,497.41 L514.95,498.21 L515.10,498.97 L515.23,499.66 L515.32,500.30 L515.39,500.88 L515.44,501.43 L515.48,501.94 L515.50,502.41 L515.50,502.84 L515.49,503.25 L515.47,503.63 L515.43,504.01 L515.38,504.37 L515.32,504.74 L515.25,505.11 L515.16,505.48 L515.07,505.83 L514.97,506.16 L514.85,506.49 L514.71,506.82 L514.57,507.14 L514.41,507.46 L514.24,507.76 L514.07,508.06 L513.88,508.33 L513.70,508.60 L513.51,508.84 L513.33,509.07 L513.15,509.26 L512.98,509.44 L512.80,509.61 L512.61,509.76 L512.41,509.91 L512.20,510.05 L511.99,510.18 L511.77,510.30 L511.53,510.41 L511.29,510.52 L511.04,510.63 L510.78,510.72 L510.52,510.81 L510.26,510.88 L509.99,510.94 L509.70,511.00 L509.41,511.05 L509.10,511.09 L508.79,511.12 L508.48,511.14 L508.16,511.14 L507.84,511.14 L507.51,511.13 L507.18,511.11 L506.81,511.07 L506.44,511.03 L506.06,510.99 L505.68,510.93 L505.30,510.86 L504.94,510.79 L504.59,510.70 L504.25,510.60 L503.94,510.49 L503.64,510.38 L503.38,510.25 L503.13,510.11 L502.88,509.95 L502.61,509.76 L502.34,509.54 L502.08,509.31 L501.81,509.06 L501.56,508.80 L501.31,508.52 L501.07,508.23 L500.84,507.92 L500.63,507.61 L500.42,507.28 L500.24,506.96 L500.07,506.63 L499.91,506.27 L499.76,505.88 L499.61,505.46 L499.47,505.02 L499.34,504.56 L499.23,504.09 L499.12,503.61 L499.02,503.13 L498.93,502.64 L498.85,502.16 L498.78,501.70 L498.73,501.27 L498.69,500.84 L498.66,500.40 L498.65,499.96 L498.64,499.50 L498.65,499.04 L498.66,498.58 L498.68,498.10 L498.71,497.62 L498.74,497.13 L498.77,496.63 L498.80,496.13 L498.82,495.64 L498.85,495.18 L498.88,494.74 L498.91,494.31 L498.94,493.90 L498.98,493.47 L499.03,493.04 L499.09,492.59 L499.16,492.12 L499.24,491.60 L499.34,491.04 L499.46,490.42 L499.60,489.73 L499.74,488.99 L499.89,488.21 L500.05,487.41 L500.23,486.58 L500.41,485.74 L500.61,484.89 L500.83,484.04 L501.06,483.20 L501.31,482.37 L501.57,481.57 L501.85,480.80 L502.17,480.01 L502.56,479.15 L503.00,478.25 L503.48,477.31 L503.98,476.37 L504.48,475.43 L504.99,474.53 L505.47,473.67 L505.92,472.88 L506.32,472.17 L506.67,471.54 L506.94,471.04" stroke="#151515" stroke-width="1.32" fill="none" stroke-linejoin="round"/>
<path d="M515.14,480.48 L515.24,480.91 L515.37,481.44 L515.53,482.07 L515.70,482.77 L515.89,483.53 L516.09,484.35 L516.30,485.20 L516.51,486.07 L516.73,486.95 L516.94,487.82 L517.15,488.67 L517.34,489.49 L517.53,490.29 L517.74,491.12 L517.96,491.98 L518.18,492.87 L518.41,493.76 L518.64,494.66 L518.85,495.56 L519.06,496.44 L519.25,497.30 L519.42,498.14 L519.57,498.94 L519.68,499.70 L519.76,500.41 L519.83,501.07 L519.87,501.70 L519.90,502.30 L519.90,502.88 L519.89,503.44 L519.85,503.98 L519.80,504.51 L519.73,505.03 L519.65,505.53 L519.55,506.02 L519.44,506.52 L519.30,507.04 L519.14,507.56 L518.95,508.07 L518.75,508.56 L518.54,509.04 L518.30,509.50 L518.06,509.95 L517.80,510.38 L517.53,510.80 L517.25,511.19 L516.97,511.57 L516.67,511.93 L516.35,512.29 L516.02,512.62 L515.67,512.94 L515.31,513.23 L514.95,513.50 L514.57,513.75 L514.19,513.99 L513.80,514.20 L513.41,514.39 L513.02,514.57 L512.63,514.73 L512.22,514.88 L511.80,515.02 L511.37,515.14 L510.93,515.24 L510.48,515.33 L510.04,515.40 L509.58,515.46 L509.13,515.50 L508.67,515.53 L508.21,515.54 L507.74,515.54 L507.28,515.52 L506.82,515.49 L506.38,515.45 L505.93,515.40 L505.45,515.34 L504.97,515.27 L504.47,515.18 L503.96,515.08 L503.45,514.95 L502.93,514.80 L502.40,514.62 L501.88,514.41 L501.36,514.16 L500.87,513.89 L500.40,513.59 L499.96,513.27 L499.53,512.93 L499.12,512.57 L498.72,512.19 L498.33,511.79 L497.96,511.37 L497.60,510.94 L497.27,510.49 L496.95,510.02 L496.65,509.54 L496.36,509.04 L496.09,508.51 L495.85,507.96 L495.63,507.41 L495.43,506.84 L495.25,506.27 L495.09,505.69 L494.95,505.11 L494.82,504.54 L494.70,503.97 L494.59,503.40 L494.50,502.85 L494.42,502.30 L494.35,501.73 L494.30,501.16 L494.27,500.60 L494.25,500.04 L494.24,499.50 L494.25,498.96 L494.27,498.42 L494.29,497.90 L494.31,497.38 L494.34,496.87 L494.37,496.37 L494.40,495.87 L494.43,495.39 L494.46,494.91 L494.49,494.45 L494.52,493.98 L494.56,493.51 L494.61,493.03 L494.66,492.52 L494.73,492.00 L494.81,491.45 L494.90,490.86 L495.01,490.24 L495.14,489.58 L495.28,488.88 L495.42,488.14 L495.58,487.35 L495.75,486.52 L495.93,485.65 L496.12,484.76 L496.34,483.85 L496.57,482.92 L496.83,481.99 L497.11,481.05 L497.41,480.13 L497.75,479.20 L498.14,478.26 L498.58,477.28 L499.06,476.29 L499.57,475.28 L500.10,474.29 L500.63,473.32 L501.14,472.38 L501.64,471.51 L502.09,470.71 L502.48,470.01 L502.81,469.42 L503.06,468.96" stroke="#151515" stroke-width="1.32" fill="none" stroke-linejoin="round"/>
<path d="M509.7,469.5 L516.2,469.5 L515.4,481 L510.6,481 Z" stroke="#151515" stroke-width="1.20" fill="#fff" />
<line x1="510.00" y1="473.20" x2="516.00" y2="473.20" stroke="#151515" stroke-width="0.8" />
<line x1="510.30" y1="477.60" x2="515.70" y2="477.60" stroke="#151515" stroke-width="1.2" />
<clipPath id="h2"><rect x="466.5" y="600" width="28.100000000000023" height="121"/></clipPath>
<g clip-path="url(#h2)" stroke="#8c8c8c" stroke-width="1.05">
<line x1="466.5" y1="586.34" x2="494.6" y2="559.64"/>
<line x1="466.5" y1="594.83" x2="494.6" y2="568.13"/>
<line x1="466.5" y1="603.32" x2="494.6" y2="576.62"/>
<line x1="466.5" y1="611.81" x2="494.6" y2="585.11"/>
<line x1="466.5" y1="620.30" x2="494.6" y2="593.60"/>
<line x1="466.5" y1="628.79" x2="494.6" y2="602.09"/>
<line x1="466.5" y1="637.28" x2="494.6" y2="610.58"/>
<line x1="466.5" y1="645.77" x2="494.6" y2="619.07"/>
<line x1="466.5" y1="654.26" x2="494.6" y2="627.56"/>
<line x1="466.5" y1="662.75" x2="494.6" y2="636.05"/>
<line x1="466.5" y1="671.24" x2="494.6" y2="644.54"/>
<line x1="466.5" y1="679.73" x2="494.6" y2="653.03"/>
<line x1="466.5" y1="688.22" x2="494.6" y2="661.52"/>
<line x1="466.5" y1="696.71" x2="494.6" y2="670.01"/>
<line x1="466.5" y1="705.20" x2="494.6" y2="678.50"/>
<line x1="466.5" y1="713.69" x2="494.6" y2="687.00"/>
<line x1="466.5" y1="722.18" x2="494.6" y2="695.49"/>
<line x1="466.5" y1="730.67" x2="494.6" y2="703.98"/>
<line x1="466.5" y1="739.16" x2="494.6" y2="712.47"/>
<line x1="466.5" y1="747.65" x2="494.6" y2="720.96"/>
<line x1="466.5" y1="756.14" x2="494.6" y2="729.45"/>
</g>
<rect x="466" y="636.5" width="28.600000000000023" height="6.2999999999999545" fill="#fff"/>
<rect x="466" y="678" width="28.600000000000023" height="6.399999999999977" fill="#fff"/>
<line x1="494.60" y1="604.00" x2="494.60" y2="777.00" stroke="#2a2a2a" stroke-width="1.05" />
<line x1="494.60" y1="604.00" x2="494.60" y2="721.00" stroke="#222" stroke-width="1.4" />
<line x1="437.60" y1="611.40" x2="437.60" y2="710.00" stroke="#2a2a2a" stroke-width="1.05" />
<line x1="437.00" y1="611.40" x2="528.00" y2="611.40" stroke="#2a2a2a" stroke-width="1.05" />
<line x1="437.00" y1="710.00" x2="528.00" y2="710.00" stroke="#2a2a2a" stroke-width="1.05" />
<polygon points="437.60,611.40 438.75,618.00 436.45,618.00" fill="#1c1c1c"/>
<polygon points="437.60,710.00 436.45,703.40 438.75,703.40" fill="#1c1c1c"/>
<text x="0" y="0" text-anchor="middle" font-size="14.2" transform="translate(436.30 660.80) rotate(-90.00) scale(0.965 1)" >355</text>
<line x1="458.40" y1="639.70" x2="458.40" y2="681.70" stroke="#2a2a2a" stroke-width="1.05" />
<line x1="458.40" y1="639.70" x2="493.00" y2="639.70" stroke="#2a2a2a" stroke-width="1.05" />
<line x1="458.40" y1="681.70" x2="493.00" y2="681.70" stroke="#2a2a2a" stroke-width="1.05" />
<polygon points="458.40,639.70 459.55,646.30 457.25,646.30" fill="#1c1c1c"/>
<polygon points="458.40,681.70 457.25,675.10 459.55,675.10" fill="#1c1c1c"/>
<text x="0" y="0" text-anchor="middle" font-size="14.2" transform="translate(457.30 660.60) rotate(-90.00) scale(0.94 1)" >150</text>
<line x1="494.60" y1="776.00" x2="658.60" y2="776.00" stroke="#2a2a2a" stroke-width="1.05" />
<polygon points="494.60,776.00 501.20,774.85 501.20,777.15" fill="#1c1c1c"/>
<polygon points="658.60,776.00 652.00,777.15 652.00,774.85" fill="#1c1c1c"/>
<line x1="658.50" y1="660.40" x2="658.50" y2="777.00" stroke="#2a2a2a" stroke-width="1.05" />
<text x="0" y="0" text-anchor="middle" font-size="14.2" transform="translate(577.00 774.00) scale(0.985 1)" >600</text>
<path d="M661.69,574.90 A171,171 0 0 1 661.69,745.90" stroke="#2a2a2a" stroke-width="1.08" fill="none" />
<polygon points="661.69,574.90 666.07,580.48 664.05,581.59" fill="#1c1c1c"/>
<polygon points="661.69,745.90 664.05,739.21 666.07,740.32" fill="#1c1c1c"/>
<polygon points="684.60,660.20 683.30,653.23 685.60,653.18" fill="#1c1c1c"/>
<polygon points="684.60,660.60 685.60,667.62 683.30,667.57" fill="#1c1c1c"/>
<line x1="513.60" y1="660.40" x2="661.69" y2="574.90" stroke="#1a1a1a" stroke-width="1.0" />
<line x1="513.60" y1="660.40" x2="661.69" y2="745.90" stroke="#1a1a1a" stroke-width="1.0" />
<line x1="623.60" y1="660.40" x2="684.60" y2="660.40" stroke="#2a2a2a" stroke-width="1.05" />
<text x="0" y="0" text-anchor="middle" font-size="14.2" transform="translate(681.00 616.50) rotate(73.00) scale(0.985 1)" >30°</text>
<text x="0" y="0" text-anchor="middle" font-size="14.2" transform="translate(677.20 705.10) rotate(-74.00) scale(0.985 1)" >30°</text>
<circle cx="608.86" cy="605.40" r="35.20" stroke="#666" stroke-width="1.20" fill="none" stroke-dasharray="7 3.2"/>
<circle cx="608.86" cy="605.40" r="4.30" stroke="#555" stroke-width="1.08" fill="none" stroke-dasharray="3 1.3"/>
<g transform="rotate(-30 513.6 660.4)">
<line x1="521.60" y1="657.80" x2="620.10" y2="657.80" stroke="#555" stroke-width="0.9" stroke-dasharray="6 2"/>
<line x1="521.60" y1="663.00" x2="620.10" y2="663.00" stroke="#555" stroke-width="0.9" stroke-dasharray="6 2"/>
</g>
<line x1="513.60" y1="660.40" x2="639.17" y2="587.90" stroke="#1a1a1a" stroke-width="1.4" />
<circle cx="608.86" cy="715.40" r="35.20" stroke="#666" stroke-width="1.20" fill="none" stroke-dasharray="7 3.2"/>
<circle cx="608.86" cy="715.40" r="4.30" stroke="#555" stroke-width="1.08" fill="none" stroke-dasharray="3 1.3"/>
<g transform="rotate(30 513.6 660.4)">
<line x1="521.60" y1="657.80" x2="620.10" y2="657.80" stroke="#555" stroke-width="0.9" stroke-dasharray="6 2"/>
<line x1="521.60" y1="663.00" x2="620.10" y2="663.00" stroke="#555" stroke-width="0.9" stroke-dasharray="6 2"/>
</g>
<line x1="513.60" y1="660.40" x2="639.17" y2="732.90" stroke="#1a1a1a" stroke-width="1.4" />
<circle cx="623.60" cy="660.40" r="34.90" stroke="#151515" stroke-width="1.56" fill="none" />
<path d="M494.6,621.5 L529,621.5 C532.5,621.5 534.6,623.6 535.4,626.5 C536.2,629.5 536.6,631 537.4,633 C539.6,638 542,644 542.6,650 C543,654 543,660 542.4,664 C541.5,670 539.6,675 538.2,680 C537.2,684 537,688 536,692 C535,696 533,699.6 529,699.6 L494.6,699.6" stroke="#151515" stroke-width="1.50" fill="none" />
<rect x="519.60" y="611.20" width="8.80" height="10.30" stroke="#151515" stroke-width="1.44" fill="none" />
<circle cx="524.00" cy="614.60" r="1.00" stroke="none" stroke-width="0.00" fill="#151515" />
<rect x="519.60" y="699.60" width="8.80" height="10.20" stroke="#151515" stroke-width="1.44" fill="none" />
<circle cx="524.00" cy="706.40" r="1.00" stroke="none" stroke-width="0.00" fill="#151515" />
<path d="M513,644.2 L508.6,644.2 L508.6,676.4 L518.4,676.4 L518.4,663.5 M518.4,657.8 L518.4,655" stroke="#151515" stroke-width="1.44" fill="none" />
<circle cx="513.50" cy="674.00" r="1.00" stroke="none" stroke-width="0.00" fill="#151515" />
<path d="M537,632.4 C532.5,631.6 528.2,633.6 526.6,637 C525.4,639.8 525.6,642.8 522.4,644.4 C519.4,645.9 516,645.4 514.3,647.8 C512.8,650 513.4,653 516,654.4 C519,655.9 523,655.2 527,655.6 L532,657" stroke="#151515" stroke-width="1.50" fill="none" />
<path d="M528.4,663.8 C530,667 536.4,667.6 539.8,663.8" stroke="#151515" stroke-width="1.32" fill="none" />
<line x1="466.50" y1="636.60" x2="493.00" y2="636.60" stroke="#151515" stroke-width="1.5" />
<line x1="466.50" y1="642.70" x2="493.00" y2="642.70" stroke="#151515" stroke-width="1.5" />
<line x1="466.50" y1="678.10" x2="493.00" y2="678.10" stroke="#151515" stroke-width="1.5" />
<line x1="466.50" y1="684.30" x2="493.00" y2="684.30" stroke="#151515" stroke-width="1.5" />
<rect x="491.40" y="636.20" width="4.60" height="7.00" stroke="none" stroke-width="0.00" fill="#151515" />
<rect x="491.40" y="677.60" width="4.60" height="7.20" stroke="none" stroke-width="0.00" fill="#151515" />
<line x1="483.00" y1="656.40" x2="495.00" y2="656.40" stroke="#151515" stroke-width="2.4" stroke-linecap="round"/>
<line x1="483.00" y1="664.70" x2="495.00" y2="664.70" stroke="#151515" stroke-width="2.4" stroke-linecap="round"/>
<rect x="495.00" y="653.50" width="3.60" height="14.30" stroke="#151515" stroke-width="1.32" fill="#fff" />
<rect x="498.60" y="657.80" width="10.40" height="5.80" stroke="#151515" stroke-width="1.32" fill="#fff" />
<line x1="501.50" y1="657.80" x2="501.50" y2="663.60" stroke="#151515" stroke-width="0.9" />
<line x1="504.50" y1="657.80" x2="504.50" y2="663.60" stroke="#151515" stroke-width="0.9" />
<rect x="516.00" y="658.10" width="105.00" height="5.20" stroke="#151515" stroke-width="1.62" fill="#dcdcdc" />
<line x1="516.00" y1="660.70" x2="621.00" y2="660.70" stroke="#555" stroke-width="0.8" />
<circle cx="513.50" cy="660.60" r="3.10" stroke="#151515" stroke-width="2.04" fill="#fff" />
<circle cx="513.50" cy="660.60" r="0.90" stroke="none" stroke-width="0.00" fill="#151515" />
<circle cx="623.60" cy="660.50" r="4.40" stroke="#151515" stroke-width="1.68" fill="#fff" />
<circle cx="623.60" cy="660.50" r="2.10" stroke="#151515" stroke-width="1.32" fill="#ccc" />
</svg>
</body></html>
